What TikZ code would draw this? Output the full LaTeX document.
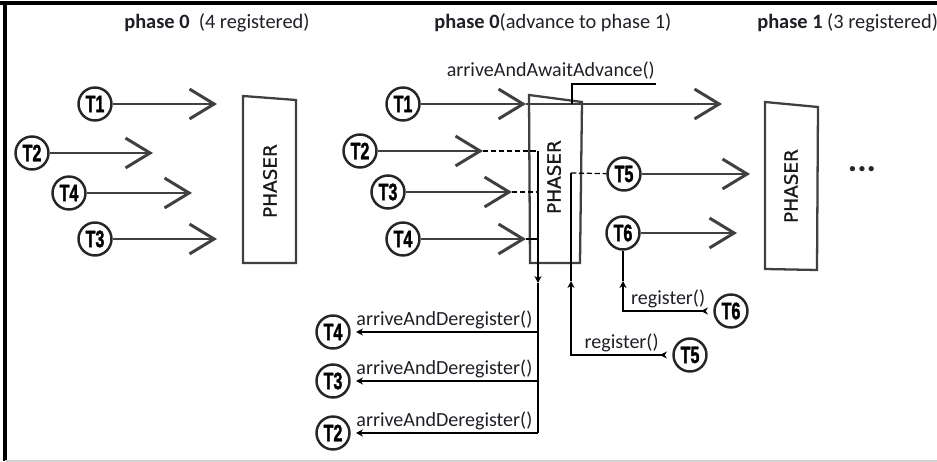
\documentclass[tikz,border=0pt]{standalone}
\usepackage{fontspec}
\setmainfont{Carlito}
\setsansfont{Carlito}
\newfontfamily\thrfont[BoldFeatures={FakeBold=1.8}]{Liberation Sans}
\newfontfamily\phfont[FakeBold=0.9]{DejaVu Sans}
\usetikzlibrary{arrows.meta, calc}
\definecolor{inkgray}{rgb}{0.25,0.25,0.25}
\definecolor{txtgray}{rgb}{0.12,0.12,0.15}
\newcommand{\tname}[1]{\scalebox{0.68}[1]{\thrfont\bfseries\fontsize{13.5}{13.5}\selectfont #1}}

\begin{document}
\begin{tikzpicture}[x=0.02cm, y=-0.02cm,
  thr/.style={circle, draw=black!85, line width=1.4pt, minimum size=0.66cm,
              inner sep=0pt, fill=white},
  fat/.style={draw=inkgray, line width=1.7pt,
              -{Straight Barb[length=14pt, width=17pt]}},
  wire/.style={draw=black, line width=0.7pt},
  dashwire/.style={wire, dash pattern=on 3pt off 1.5pt},
  down/.style={wire, -{Stealth[length=4pt, width=4pt]}},
  regline/.style={wire, shorten <=3pt,
              arrows={Stealth[length=4pt, width=4pt, reversed]-Stealth[length=4pt, width=4pt]}},
  box/.style={draw=inkgray, line width=1.3pt},
  phs/.style={rotate=90, font=\phfont\fontsize{10.5}{10.5}\selectfont, text=black!90},
  lbl/.style={font=\fontsize{11.4}{13}\selectfont, text=txtgray, inner sep=1.5pt},
  head/.style={font=\fontsize{11.6}{13}\selectfont, text=txtgray, inner sep=0pt},
]
\useasboundingbox (0,0) rectangle (937,462);

%% frame
\draw[line width=2pt] (0,3) -- (937,3);
\draw[line width=2.5pt] (5,3) -- (5,461);
\draw[gray!35, line width=1pt] (5,461) -- (937,461);

%% headers
\node[head, anchor=base west] (h1) at (124,29) {\textbf{phase 0}~~(4 registered)};
\node[head, anchor=base west] (h2) at (434,29) {\textbf{phase 0}(advance to phase 1)};
\node[head, anchor=base west] (h3) at (757,29) {\textbf{phase 1} (3 registered)};

%% phase 0, four threads arriving
\foreach \n/\x/\y/\e in {1/95/104/217, 2/32/153/153, 4/69/193/192, 3/95/239/217}{
  \node[thr] (l\n) at (\x,\y) {\tname{T\n}};
  \coordinate (le\n) at (\e,\y);
  \draw[fat] (l\n) -- (le\n);
}
\draw[box] (243,96) -- (296,100) -- (296,263) -- (243,263) -- cycle;
\node[phs] (ph1) at (270,181) {PHASER};

%% phase 0, advancing
\foreach \n/\x/\y/\e in {1/403/104/526, 2/360/151/483, 3/388/192/512, 4/403/239/526}{
  \node[thr] (m\n) at (\x,\y) {\tname{T\n}};
  \coordinate (me\n) at (\e,\y);
  \draw[fat] (m\n) -- (me\n);
}
\draw[box] (529,95) -- (582,102) -- (580,263) -- (530,263) -- cycle;
\node[phs] (ph2) at (554,177) {PHASER};
\coordinate (out1) at (722,104);
\draw[fat] (me1) -- (out1);
\coordinate (aw0) at (572,104);
\coordinate (aw1) at (656,84);
\draw[wire] (aw0) |- (aw1);
\node[lbl, anchor=base east, inner sep=0pt] (awlbl) at (655,77) {arriveAndAwaitAdvance()};

%% deregistering threads
\coordinate (d2) at (538,151);
\coordinate (d3) at (538,192);
\coordinate (d4) at (538,239);
\coordinate (dm) at (538,283);
\draw[dashwire] (me2) -- (d2);
\draw[dashwire] (me3) -- (d3);
\draw[wire] (me4) -- (d4);
\draw[down] (d2) -- (dm);
\foreach \n/\y in {4/332, 3/381, 2/433}{
  \coordinate (j\n) at (538,\y);
  \node[thr] (b\n) at (333,\y) {\tname{T\n}};
  \draw[down, shorten >=3pt] (j\n) -- node[lbl, above] {arriveAndDeregister()} (b\n);
}
\draw[wire] (dm) -- (j2);

%% new threads T5 and T6
\node[thr] (t5) at (624,174) {\tname{T5}};
\node[thr] (t6) at (623,233) {\tname{T6}};
\coordinate (t5e) at (750,174);
\coordinate (t6e) at (737,233);
\draw[fat] (t5) -- (t5e);
\draw[fat] (t6) -- (t6e);

\node[thr] (r5) at (690,355) {\tname{T5}};
\node[thr] (r6) at (731,311) {\tname{T6}};
\coordinate (c5) at (571,173);
\coordinate (u5) at (571,281);
\coordinate (k5) at (571,355);
\coordinate (u6) at (623,281);
\coordinate (k6) at (623,311);
\draw[regline] (r5) -- node[lbl, above] {register()} (k5) -- (u5);
\draw[wire] (u5) -- (c5);
\draw[dashwire] (c5) -- (t5);
\draw[regline] (r6) -- node[lbl, above] {register()} (k6) -- (u6);
\draw[wire] (u6) -- (t6);

%% phase 1
\draw[box] (765,102) -- (818,107) -- (817,270) -- (765,269) -- cycle;
\node[phs] (ph3) at (791,186) {PHASER};
\node[font=\bfseries\fontsize{20}{20}\selectfont, text=black!85] (dots) at (862,169) {...};
\end{tikzpicture}
\end{document}
